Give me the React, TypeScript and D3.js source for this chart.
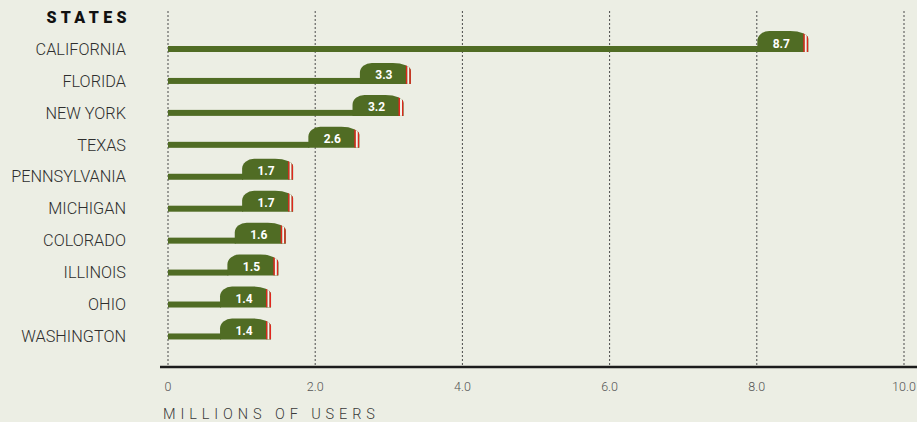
import React from "react";
import * as d3 from "d3";

const states = [
  "CALIFORNIA",
  "FLORIDA",
  "NEW YORK",
  "TEXAS",
  "PENNSYLVANIA",
  "MICHIGAN",
  "COLORADO",
  "ILLINOIS",
  "OHIO",
  "WASHINGTON",
];
const users = [8.7, 3.3, 3.2, 2.6, 1.7, 1.7, 1.6, 1.5, 1.4, 1.4];
const ticks = [0, 2, 4, 6, 8, 10];
const tickLabels = ["0", "2.0", "4.0", "6.0", "8.0", "10.0"];

const W = 917;
const H = 422;
const BG = "#ECEEE4";
const GREEN = "#506C24";
const RED = "#E0261E";
const FONT = "Roboto, 'Open Sans', sans-serif";

// bubble geometry (px)
const BUBBLE_W = 51;
const BUBBLE_H = 21;
const BAR_H = 6;
const STRIPES = 5;

function bubblePath(x0: number, x1: number, yb: number) {
  const yt = yb - BUBBLE_H;
  return [
    `M${x0},${yb}`,
    `V${yt + 10}`,
    `A12,10 0 0 1 ${x0 + 12},${yt}`,
    `H${x1 - 18}`,
    `A18,8 0 0 1 ${x1},${yt + 8}`,
    `V${yb}`,
    "Z",
  ].join(" ");
}

export default function App() {
  const x = d3.scaleLinear().domain([0, 10]).range([168, 904]);
  const y = d3
    .scalePoint<string>()
    .domain(states)
    .range([52, 52 + 31.94 * (states.length - 1)]);

  const axisY = 367;
  document.body.style.margin = "0";
  document.body.style.background = BG;

  return (
    <svg
      width={W}
      height={H}
      style={{ position: "absolute", left: 0, top: 0, background: BG }}
    >
      <rect width={W} height={H} fill={BG} />
      {/* dotted gridlines */}
      {ticks.map((t) => (
        <line
          key={"g" + t}
          x1={x(t)}
          x2={x(t)}
          y1={11}
          y2={axisY}
          stroke="#4a4a4a"
          strokeWidth={1}
          strokeDasharray="2,2"
        />
      ))}
      {/* axis baseline */}
      <line x1={160} x2={W} y1={axisY} y2={axisY} stroke="#1c1c1c" strokeWidth={2.5} />
      {/* tick labels */}
      {ticks.map((t, i) => (
        <text
          key={"t" + t}
          x={x(t)}
          y={391}
          textAnchor="middle"
          fontFamily={FONT}
          fontSize={12.5}
          fontWeight={300}
          fill="#555"
        >
          {tickLabels[i]}
        </text>
      ))}
      <text
        x={163}
        y={419}
        fontFamily={FONT}
        fontSize={14.5}
        fontWeight={300}
        letterSpacing={4.9}
        fill="#3a3a3a"
      >
        MILLIONS OF USERS
      </text>
      <text
        x={131}
        y={23}
        textAnchor="end"
        fontFamily={FONT}
        fontSize={16}
        fontWeight={900}
        letterSpacing={4.4}
        fill="#111"
      >
        STATES
      </text>
      <defs>
        {states.map((s, i) => {
          const yb = y(s)!;
          const x1 = x(users[i]);
          return (
            <clipPath id={"clip" + i} key={"c" + i}>
              <path d={bubblePath(x1 - BUBBLE_W, x1, yb)} />
            </clipPath>
          );
        })}
      </defs>
      {states.map((s, i) => {
        const yb = y(s)!;
        const x1 = x(users[i]);
        const x0 = x1 - BUBBLE_W;
        return (
          <g key={s}>
            <text
              x={126}
              y={yb - 3}
              dy="0.35em"
              textAnchor="end"
              fontFamily={FONT}
              fontSize={16.3}
              fontWeight={300}
              fill="#2e2e2e"
            >
              {s}
            </text>
            <rect x={x(0)} y={yb - BAR_H} width={x0 - x(0) + 1} height={BAR_H} fill={GREEN} />
            <path d={bubblePath(x0, x1, yb)} fill={GREEN} />
            <g clipPath={`url(#clip${i})`}>
              <rect x={x1 - STRIPES} y={yb - BUBBLE_H} width={1.5} height={BUBBLE_H} fill={RED} />
              <rect x={x1 - STRIPES + 1.5} y={yb - BUBBLE_H} width={2} height={BUBBLE_H} fill="#F6F4EE" />
              <rect x={x1 - 1.5} y={yb - BUBBLE_H} width={1.5} height={BUBBLE_H} fill={RED} />
            </g>
            <text
              x={(x0 + x1 - STRIPES) / 2 + 1}
              y={yb - 4.5}
              textAnchor="middle"
              fontFamily={FONT}
              fontSize={12}
              fontWeight={700}
              fill="#fff"
            >
              {users[i].toFixed(1)}
            </text>
          </g>
        );
      })}
    </svg>
  );
}
